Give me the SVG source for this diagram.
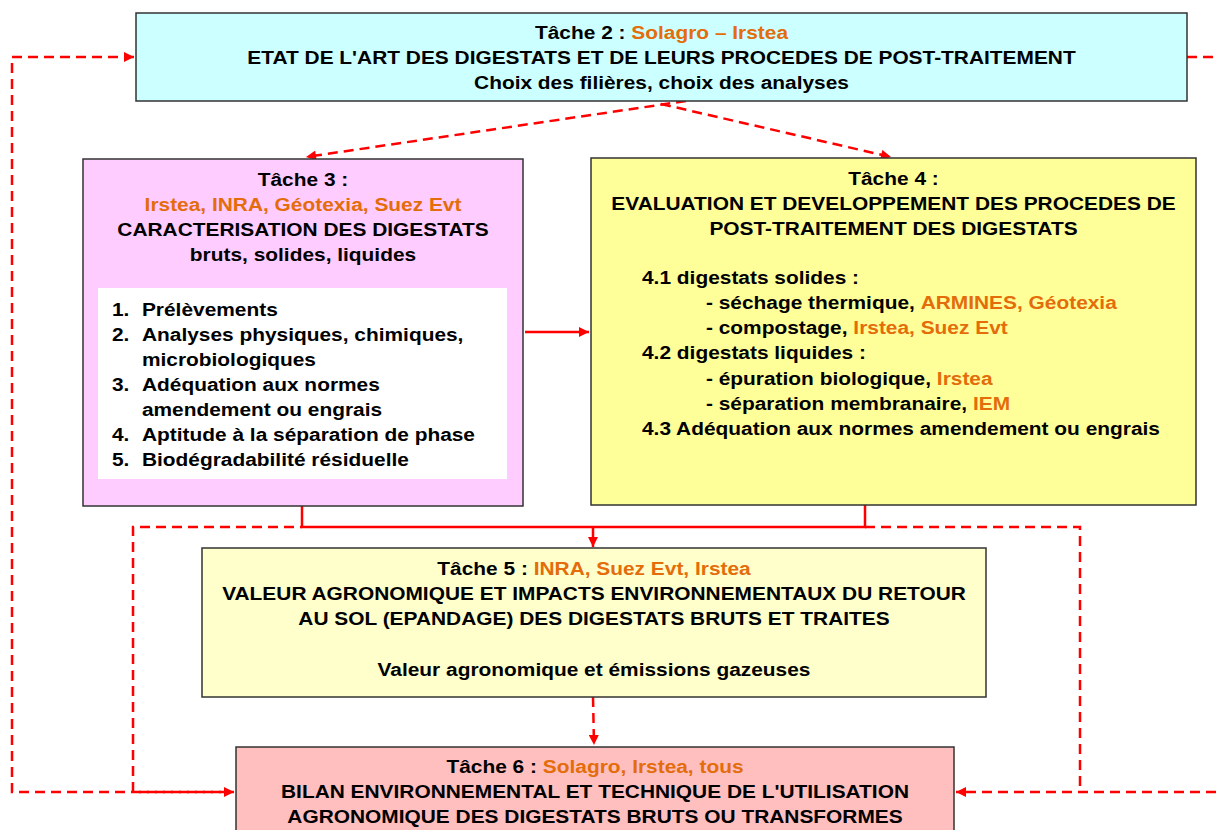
<svg xmlns="http://www.w3.org/2000/svg" width="1216" height="830" viewBox="0 0 1216 830">
<style>
.box{stroke:#333;stroke-width:1.5}
.t{font-family:"Liberation Sans",Arial,sans-serif;font-weight:bold;font-size:18.5px;fill:#000}
.c{text-anchor:middle}
.o{fill:#E46C0A}
.dash{fill:none;stroke:#f00;stroke-width:2.5;stroke-dasharray:10 6}
.sol{fill:none;stroke:#f00;stroke-width:2.5}
</style>
<defs>
<marker id="ah" viewBox="0 0 10 10" refX="10" refY="5" markerWidth="11" markerHeight="10" markerUnits="userSpaceOnUse" orient="auto-start-reverse">
<path d="M0,0 L10,5 L0,10z" fill="#f00"/>
</marker>
</defs>
<rect width="1216" height="830" fill="#fff"/>

<g id="connectors">
<path class="dash" d="M134,57 H12 V792 H234" marker-start="url(#ah)" marker-end="url(#ah)"/>
<path class="dash" d="M302,527 H133 V792 H234" stroke-dashoffset="8"/>
<path class="dash" d="M1187,57 H1216"/>
<path class="dash" d="M1216,792 H956" marker-end="url(#ah)"/>
<path class="dash" d="M865,527 H1080 V792"/>
<path class="dash" d="M593,697 L594,745" marker-end="url(#ah)"/>
<path class="dash" d="M686,101 L306,157" marker-end="url(#ah)"/>
<path class="dash" d="M661,104 L891,157" marker-end="url(#ah)"/>
<path class="sol" d="M302,506 V527 H865 V505"/>
<path class="sol" d="M593,527 V547" marker-end="url(#ah)"/>
<path class="sol" d="M525,332 H589" marker-end="url(#ah)"/>
</g>

<g id="tache2">
<rect class="box" x="136" y="13" width="1051" height="88" fill="#CCFFFF"/>
<g transform="translate(661.5,0) scale(1.13,1)">
<text class="t c" x="0" y="39.5">Tâche 2 : <tspan class="o">Solagro – Irstea</tspan></text>
<text class="t c" x="0" y="64.5">ETAT DE L'ART DES DIGESTATS ET DE LEURS PROCEDES DE POST-TRAITEMENT</text>
<text class="t c" x="0" y="89">Choix des filières, choix des analyses</text>
</g>
</g>

<g id="tache3">
<rect class="box" x="83" y="159" width="440" height="347" fill="#FFCCFF"/>
<rect x="98" y="288" width="409" height="191" fill="#fff"/>
<g transform="translate(303,0) scale(1.13,1)">
<text class="t c" x="0" y="186">Tâche 3 :</text>
<text class="t c o" x="0" y="211">Irstea, INRA, Géotexia, Suez Evt</text>
<text class="t c" x="0" y="236.5">CARACTERISATION DES DIGESTATS</text>
<text class="t c" x="0" y="261.5">bruts, solides, liquides</text>
</g>
<g transform="translate(112,0) scale(1.13,1)">
<text class="t" x="0" y="316">1.</text><text class="t" x="26.5" y="316">Prélèvements</text>
<text class="t" x="0" y="341">2.</text><text class="t" x="26.5" y="341">Analyses physiques, chimiques,</text>
<text class="t" x="26.5" y="366">microbiologiques</text>
<text class="t" x="0" y="391">3.</text><text class="t" x="26.5" y="391">Adéquation aux normes</text>
<text class="t" x="26.5" y="416">amendement ou engrais</text>
<text class="t" x="0" y="441">4.</text><text class="t" x="26.5" y="441">Aptitude à la séparation de phase</text>
<text class="t" x="0" y="466">5.</text><text class="t" x="26.5" y="466">Biodégradabilité résiduelle</text>
</g>
</g>

<g id="tache4">
<rect class="box" x="591" y="158" width="605" height="347" fill="#FFFF99"/>
<g transform="translate(893.5,0) scale(1.13,1)">
<text class="t c" x="0" y="185.5">Tâche 4 :</text>
<text class="t c" x="0" y="210.5">EVALUATION ET DEVELOPPEMENT DES PROCEDES DE</text>
<text class="t c" x="0" y="235.5">POST-TRAITEMENT DES DIGESTATS</text>
</g>
<g transform="translate(642,0) scale(1.13,1)">
<text class="t" x="0" y="284">4.1 digestats solides :</text>
<text class="t" x="56.6" y="309">- séchage thermique, <tspan class="o">ARMINES, Géotexia</tspan></text>
<text class="t" x="56.6" y="334">- compostage, <tspan class="o">Irstea, Suez Evt</tspan></text>
<text class="t" x="0" y="359.5">4.2 digestats liquides :</text>
<text class="t" x="56.6" y="385">- épuration biologique, <tspan class="o">Irstea</tspan></text>
<text class="t" x="56.6" y="410">- séparation membranaire, <tspan class="o">IEM</tspan></text>
<text class="t" x="0" y="435">4.3 Adéquation aux normes amendement ou engrais</text>
</g>
</g>

<g id="tache5">
<rect class="box" x="202" y="548" width="784" height="149" fill="#FFFFCC"/>
<g transform="translate(594,0) scale(1.13,1)">
<text class="t c" x="0" y="575">Tâche 5 : <tspan class="o">INRA, Suez Evt, Irstea</tspan></text>
<text class="t c" x="0" y="600">VALEUR AGRONOMIQUE ET IMPACTS ENVIRONNEMENTAUX DU RETOUR</text>
<text class="t c" x="0" y="625.5">AU SOL (EPANDAGE) DES DIGESTATS BRUTS ET TRAITES</text>
<text class="t c" x="0" y="676">Valeur agronomique et émissions gazeuses</text>
</g>
</g>

<g id="tache6">
<rect class="box" x="236" y="747" width="718" height="110" fill="#FFBFBF"/>
<g transform="translate(595,0) scale(1.13,1)">
<text class="t c" x="0" y="773.5">Tâche 6 : <tspan class="o">Solagro, Irstea, tous</tspan></text>
<text class="t c" x="0" y="798.5">BILAN ENVIRONNEMENTAL ET TECHNIQUE DE L'UTILISATION</text>
<text class="t c" x="0" y="823">AGRONOMIQUE DES DIGESTATS BRUTS OU TRANSFORMES</text>
</g>
</g>
</svg>
